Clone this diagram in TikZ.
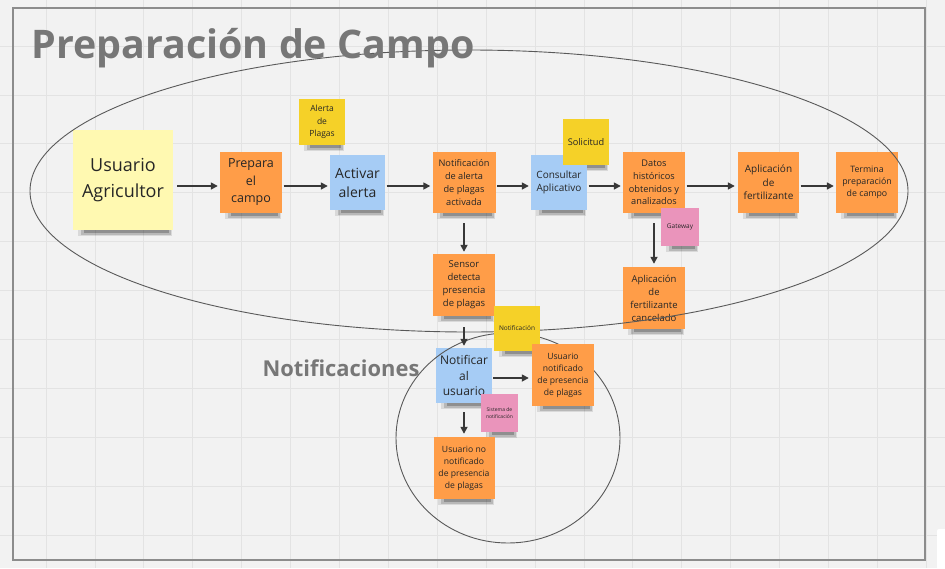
\documentclass[tikz,border=0pt]{standalone}
\usepackage{fontspec}
\setmainfont{Open Sans}
\usepackage{tikz}
\usetikzlibrary{arrows.meta}
\usetikzlibrary{backgrounds}
\definecolor{fondo}{HTML}{F2F2F2}
\definecolor{grisrej}{HTML}{E3E3E3}
\definecolor{naranja}{HTML}{FF9D48}
\definecolor{azul}{HTML}{A6CCF5}
\definecolor{amarillo}{HTML}{F5D128}
\definecolor{crema}{HTML}{FFF9B1}
\definecolor{rosa}{HTML}{EA94BB}
\definecolor{gristit}{HTML}{777777}
\newcommand{\fsz}[2]{\fontsize{#1}{#2}\selectfont}
\tikzset{
  nota/.style={inner sep=0pt, align=center, text=black!85, minimum width=62pt, minimum height=61pt},
  flecha/.style={draw=black!78, line width=1.6pt, -{Triangle[length=7pt,width=7pt]}, shorten <=1.5pt, shorten >=2pt},
  contorno/.style={draw=black!65, line width=0.9pt},
  rejilla/.style={draw=grisrej, line width=0.8pt},
  sombra/.style={fill=black}
}

\begin{document}
\begin{tikzpicture}[x=1pt, y=-1pt]
        \useasboundingbox (0,0) rectangle (945,568);
        \node[nota, fill=crema, minimum width=100pt, minimum height=100pt, font=\fsz{18}{26}] (usuario) at (123,180) {Usuario\\Agricultor};
        \node[nota, fill=naranja, font=\fsz{12.5}{17.5}] (prepara) at (251,182.5) {Prepara\\el\\campo};
        \node[nota, fill=amarillo, minimum width=46pt, minimum height=46pt, font=\fsz{8.5}{12.7}] (alerta) at (322,122) {Alerta\\de\\Plagas};
        \node[nota, fill=azul, minimum width=55pt, minimum height=55pt, font=\fsz{14}{19}] (activar) at (357.5,182.5) {Activar\\alerta};
        \node[nota, fill=naranja, minimum width=63pt, font=\fsz{9.2}{12.8}] (notifalerta) at (464,182.5) {Notificación\\de alerta\\de plagas\\activada};
        \node[nota, fill=azul, minimum width=56pt, minimum height=55pt, font=\fsz{10}{13.3}] (consultar) at (559,182.5) {Consultar\\Aplicativo};
        \node[nota, fill=amarillo, minimum width=46pt, minimum height=46pt, font=\fsz{9.2}{12}] (solicitud) at (586,142) {Solicitud};
        \node[nota, fill=naranja, font=\fsz{9.2}{12.8}] (datos) at (654,182.5) {Datos\\históricos\\obtenidos y\\analizados};
        \node[nota, fill=rosa, minimum width=38pt, minimum height=38pt, font=\fsz{6.5}{8}] (gateway) at (680,227) {Gateway};
        \node[nota, fill=naranja, minimum width=61pt, font=\fsz{10}{13.3}] (aplicacion) at (768.5,182.5) {Aplicación\\de\\fertilizante};
        \node[nota, fill=naranja, font=\fsz{8.8}{12}] (termina) at (867,182.5) {Termina\\preparación\\de campo};
        \node[nota, fill=naranja, minimum height=62pt, font=\fsz{9.5}{13}] (sensor) at (464,285) {Sensor\\detecta\\presencia\\de plagas};
        \node[nota, fill=naranja, minimum height=62pt, font=\fsz{9.5}{13}] (cancelado) at (654,298) {Aplicación\\de\\fertilizante\\cancelado};
        \node[nota, fill=azul, minimum width=56pt, minimum height=55pt, font=\fsz{12}{15.3}] (notificar) at (464,375.5) {Notificar\\al\\usuario};
        \node[nota, fill=rosa, minimum width=37pt, minimum height=38pt, font=\fsz{5}{7}] (sistema) at (499.5,413) {Sistema de\\notificación};
        \node[nota, fill=naranja, minimum width=61pt, minimum height=62pt, font=\fsz{8.6}{12}] (usunonotif) at (464,468) {Usuario no\\notificado\\de presencia\\de plagas};
        % lineas a mano alzada
        \draw[contorno] (469,191) ellipse [x radius=439pt, y radius=141pt];
        \draw[contorno] (508,438) ellipse [x radius=112pt, y radius=105pt];
        \node[nota, fill=amarillo, minimum width=46pt, minimum height=45pt, font=\fsz{6.5}{8}] (notificacion) at (517,328.5) {Notificación};
        \node[nota, fill=naranja, minimum height=62pt, font=\fsz{8.6}{12}] (usunotif) at (563,375) {Usuario\\notificado\\de presencia\\de plagas};
        % fondo, rejilla y sombras
        \begin{scope}[on background layer]
            \fill[fondo] (0,0) rectangle (945,568);
            \foreach \i in {0,...,19} \draw[rejilla] (46+48.9*\i,0) -- (46+48.9*\i,568);
            \foreach \j in {0,...,10} \draw[rejilla] (0,46+48.9*\j) -- (945,46+48.9*\j);
            \foreach \n in {usuario,prepara,alerta,activar,notifalerta,consultar,solicitud,datos,gateway,aplicacion,termina,sensor,cancelado,notificar,sistema,usunonotif,notificacion,usunotif} {
                \fill[sombra, opacity=.10] ([xshift=5pt,yshift=1pt]\n.south west) rectangle ([xshift=-1pt,yshift=-6pt]\n.south east);
                \fill[sombra, opacity=.15] ([xshift=8pt,yshift=1pt]\n.south west) rectangle ([xshift=-2pt,yshift=-4.5pt]\n.south east);
                \fill[sombra, opacity=.22] ([xshift=11pt,yshift=1pt]\n.south west) rectangle ([xshift=-4pt,yshift=-3pt]\n.south east);
            }
        \end{scope}
        \draw[draw=black!45, line width=1.2pt] (13,8) rectangle (925,560);
        \fill[white, rounded corners=2pt] (937,529) rectangle (950,575);
        \node[anchor=base west, text=gristit, font=\bfseries\fsz{39.4}{46}] (titulo) at (28,58) {Preparación de Campo};
        \node[anchor=base west, text=gristit, font=\bfseries\fsz{21.9}{26}] (subtitulo) at (259,376) {Notificaciones};
        % flechas
        \coordinate (fila) at (0,186);
        \coordinate (fila2) at (0,378);
        \draw[flecha, shorten <=4pt] (usuario.east |- fila) -- (prepara.west |- fila);
        \draw[flecha] (prepara.east |- fila) -- (activar.west |- fila);
        \draw[flecha] (activar.east |- fila) -- (notifalerta.west |- fila);
        \draw[flecha] (notifalerta.east |- fila) -- (consultar.west |- fila);
        \draw[flecha] (consultar.east |- fila) -- (datos.west |- fila);
        \draw[flecha, shorten >=3pt] (datos.east |- fila) -- (aplicacion.west |- fila);
        \draw[flecha] (aplicacion.east |- fila) -- (termina.west |- fila);
        \draw[flecha, shorten <=10pt] (notifalerta.south) -- (sensor.north);
        \draw[flecha, shorten <=10pt, shorten >=3pt] (datos.south) -- (cancelado.north);
        \draw[flecha, shorten <=11pt] (sensor.south) -- (notificar.north);
        \draw[flecha, shorten <=9pt, shorten >=3pt] (notificar.south) -- (usunonotif.north);
        \draw[flecha, shorten <=1pt, shorten >=3pt] (notificar.east |- fila2) -- (usunotif.west |- fila2);
    \end{tikzpicture}
\end{document}
